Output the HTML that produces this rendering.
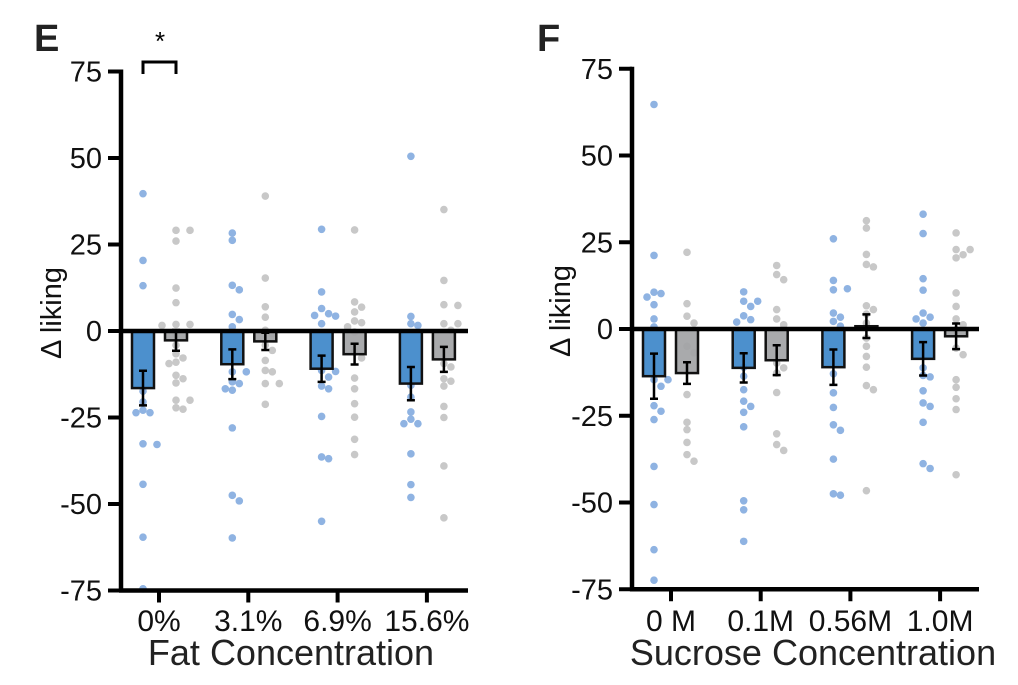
<!DOCTYPE html>
<html><head><meta charset="utf-8"><style>
html,body{margin:0;padding:0;background:#fff;}
svg{display:block;font-family:"Liberation Sans",Arial,sans-serif;}
</style></head><body>
<svg id="chart" width="1018" height="685" viewBox="0 0 1018 685"></svg>
<script>
// ---------- data ----------
const yTicks = [75, 50, 25, 0, -25, -50, -75];
const yTickLabels = ["75", "50", "25", "0", "-25", "-50", "-75"];
const fatCategories = ["0%", "3.1%", "6.9%", "15.6%"];
const fatBlueMeans = [-16.5, -9.6, -10.9, -15.2];
const fatBlueErr = [5, 4.3, 3.8, 4.8];
const fatGrayMeans = [-2.7, -3, -6.7, -8.2];
const fatGrayErr = [3, 2.5, 3, 3.6];
const fatBlueDots = [
  [39.7,20.4,13.1,-17.4,-20.5,-22.9,-23.6,-23.6,-32.6,-32.8,-44.3,-59.6,-74.5],
  [28.3,26.2,13.2,11.9,4.8,3.3,1.2,-11.8,-11.8,-14.7,-15.2,-16.7,-17.1,-28,-47.5,-49.1,-59.8],
  [29.4,11.3,6.5,5,4.5,4.3,2.1,-11.4,-11.7,-13.3,-15.9,-16.7,-24.7,-36.4,-36.9,-55],
  [50.5,4.2,2.1,1.6,-15.7,-19.1,-23.4,-25.5,-26.8,-26.8,-35.5,-44.4,-48.1]
];
const fatGrayDots = [
  [29.1,29.1,26,12.4,8.2,1.9,1.9,1.6,-1,-4.1,-6.6,-7.8,-9,-9.4,-12.8,-13.8,-15,-20,-20,-22.2,-22.6],
  [39,15.3,7,4,0.2,-0.8,-4.1,-5.6,-8.5,-11.4,-11.8,-15.2,-15.2,-21.2],
  [29.2,8.4,6.9,5.5,2.9,2.4,1.2,-0.3,-6.1,-7.8,-13.6,-16.7,-21,-24.9,-31.3,-35.7],
  [35.1,14.6,7.6,7.4,2.1,2.1,0.2,-9.4,-10.4,-13.8,-14.5,-15.9,-21.8,-25,-39,-54]
];
const sucCategories = ["0 M", "0.1M", "0.56M", "1.0M"];
const sucBlueMeans = [-13.6, -11.2, -11, -8.6];
const sucBlueErr = [6.5, 4.2, 5.1, 4.8];
const sucGrayMeans = [-12.7, -9, 0.8, -2.1];
const sucGrayErr = [3.1, 4.3, 3.4, 3.7];
const sucBlueDots = [
  [64.7,21.2,10.6,10.2,9.2,7,2.9,0.6,-14.6,-14.6,-16.5,-22.1,-23.7,-26.1,-39.6,-50.6,-63.6,-72.4],
  [10.7,8,8,6.5,3.8,2.7,2,-11,-13.6,-17.5,-20.8,-22.3,-24,-28.2,-49.5,-52.1,-61.2],
  [26,14,11.3,11.6,4.6,3.4,2.2,0.8,-12.9,-18.4,-22.6,-27.6,-29.2,-37.5,-47.5,-47.9],
  [33.1,27.5,14.5,11.2,4.6,3.4,2.9,1.7,-11.2,-13.4,-13.8,-17.8,-21.3,-22.3,-26.9,-38.8,-40.2]
];
const sucGrayDots = [
  [22.1,7.3,3.7,1.7,-5,-6.9,-18.9,-26.9,-29,-32.7,-36.2,-38.1],
  [18.3,15.7,14.2,5.6,2.9,1.2,-9.8,-11.2,-12.7,-18.3,-30.2,-33.3,-35],
  [31.2,29.1,21.5,18.6,17.9,6.7,5.6,4.3,1.7,-2.6,-5,-7.9,-11,-16.3,-17.5,-46.6],
  [27.7,22.9,22.9,21.4,20.5,10.4,6.5,2.9,1.2,-0.2,-5.5,-7.4,-14.6,-16.8,-20.1,-23.2,-42]
];

// ---------- drawing ----------
const NS = "http://www.w3.org/2000/svg";
const svg = document.getElementById("chart");
function mk(tag, attrs, parent, text) {
  const e = document.createElementNS(NS, tag);
  for (const k in attrs) e.setAttribute(k, attrs[k]);
  if (text !== undefined) e.textContent = text;
  (parent || svg).appendChild(e);
  return e;
}
const BLUE = "#3d87c9", BLUEDOT = "#8fb3e2", GRAY = "#a2a3a5", GRAYDOT = "#c8c8c8";
const DOTR = 3.8;

function beeswarm(vals, cx, yFn) {
  const placed = [];
  const d = 2 * DOTR;
  vals.forEach(v => {
    const y = yFn(v);
    const offs = [0, 7, -7, 14, -14, 21, -21];
    let chosen = 0;
    for (const o of offs) {
      if (!placed.some(p => Math.hypot(p.x - (cx + o), p.y - y) < d - 0.5)) { chosen = o; break; }
    }
    placed.push({x: cx + chosen, y});
  });
  return placed;
}

function panel(cfg) {
  const g = mk("g", {});
  
  
  const y = v => cfg.y0 - v * cfg.scale;
  const xc = i => cfg.ticks0 + i * cfg.tickStep;

  cfg.blueDots.forEach((arr, i) => {
    beeswarm(arr, xc(i) + cfg.blueOff, y).forEach(p => {
      const c = mk("circle", {cx: p.x, cy: p.y, r: DOTR, fill: BLUEDOT}, g);
      
      
    });
  });
  cfg.grayDots.forEach((arr, i) => {
    beeswarm(arr, xc(i) + cfg.grayOff, y).forEach(p => {
      const c = mk("circle", {cx: p.x, cy: p.y, r: DOTR, fill: GRAYDOT}, g);
      
      
    });
  });
  const bw = 22;
  function bar(i, mean, err, off, fill, nm) {
    const cx = xc(i) + off;
    const top = Math.min(y(0), y(mean)), h = Math.abs(y(mean) - y(0));
    const r = mk("rect", {x: cx - bw / 2, y: top, width: bw, height: h, fill: fill, "fill-opacity": 0.92, stroke: "#111", "stroke-width": 2.5}, g);
    
    
    const e1 = y(mean + err), e2 = y(mean - err);
    const eb = mk("path", {d: `M${cx},${e1}V${e2}M${cx - 4},${e1}H${cx + 4}M${cx - 4},${e2}H${cx + 4}`, stroke: "#000", "stroke-width": 2.5, fill: "none"}, g);
    
    
  }
  cfg.blueMeans.forEach((m, i) => bar(i, m, cfg.blueErr[i], cfg.blueOff, BLUE, 'bar-blue-' + i));
  cfg.grayMeans.forEach((m, i) => bar(i, m, cfg.grayErr[i], cfg.grayOff, GRAY, 'bar-gray-' + i));

  const ax = mk("path", {d: `M${cfg.axX},${y(75) - 2}V${y(-75) + 2}`, stroke: "#000", "stroke-width": 4.5}, g);
  
  
  const bx = mk("path", {d: `M${cfg.axX - 2},${y(-75)}H${cfg.xEnd}`, stroke: "#000", "stroke-width": 4.5}, g);
  
  
  const zl = mk("path", {d: `M${cfg.axX},${y(0)}H${cfg.xEnd}`, stroke: "#000", "stroke-width": 4.5}, g);
  
  

  yTicks.forEach((t, i) => {
    const tk = mk("path", {d: `M${cfg.axX - 13},${y(t)}H${cfg.axX}`, stroke: "#000", "stroke-width": 4}, g);
    
    
    const tl = mk("text", {x: cfg.axX - 19, y: y(t) + 10, "text-anchor": "end", "font-size": 29, fill: "#111"}, g, yTickLabels[i]);
    
    
  });
  cfg.categories.forEach((c, i) => {
    const tk = mk("path", {d: `M${xc(i)},${y(-75)}V${y(-75) + 12}`, stroke: "#000", "stroke-width": 4}, g);
    
    
    const tl = mk("text", {x: xc(i), y: 631, "text-anchor": "middle", "font-size": 30, fill: "#111"}, g, c);
    
    
  });
  const xt = mk("text", {x: cfg.titleX, y: 665, "text-anchor": "middle", "font-size": 36, fill: "#222"}, g, cfg.xTitle);
  
  
  const yt = mk("text", {x: 0, y: 0, transform: `translate(${cfg.ylabX},${cfg.y0 - 18}) rotate(-90)`, "text-anchor": "middle", "font-size": 29, fill: "#111"}, g, "Δ liking");
  
  
  const pl = mk("text", {x: cfg.letterX, y: 51, "font-size": 38, "font-weight": "bold", fill: "#222"}, g, cfg.letter);
  
  
}

panel({name: "panel-e", letter: "E", letterX: 34, y0: 331, scale: 3.46, axX: 121, xEnd: 468,
  ticks0: 159, tickStep: 89.3, blueOff: -16, grayOff: 17,
  categories: fatCategories, blueMeans: fatBlueMeans, blueErr: fatBlueErr, grayMeans: fatGrayMeans, grayErr: fatGrayErr,
  blueDots: fatBlueDots, grayDots: fatGrayDots, xTitle: "Fat Concentration", titleX: 291, ylabX: 61});
panel({name: "panel-f", letter: "F", letterX: 537, y0: 329, scale: 3.47, axX: 632, xEnd: 979,
  ticks0: 671, tickStep: 89.7, blueOff: -17, grayOff: 16,
  categories: sucCategories, blueMeans: sucBlueMeans, blueErr: sucBlueErr, grayMeans: sucGrayMeans, grayErr: sucGrayErr,
  blueDots: sucBlueDots, grayDots: sucGrayDots, xTitle: "Sucrose Concentration", titleX: 813, ylabX: 570});

const br = mk("path", {d: "M143,74V62H176V74", stroke: "#000", "stroke-width": 3, fill: "none"});


const st = mk("text", {x: 160, y: 50, "text-anchor": "middle", "font-size": 26, fill: "#000"}, svg, "*");


</script>
</body></html>
